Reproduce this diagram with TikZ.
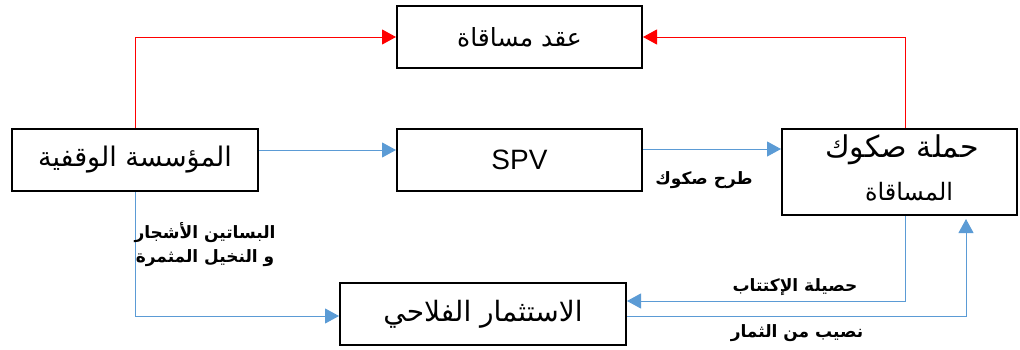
\documentclass[tikz,border=0pt]{standalone}
\usepackage{fontspec}
\setmainfont{Liberation Sans}
\newfontfamily\arabicfont[Script=Arabic]{DejaVu Sans}
\TeXXeTstate=1
\usetikzlibrary{arrows.meta,calc}
\definecolor{lineblue}{HTML}{5B9BD5}
\definecolor{linered}{HTML}{FF0000}
\tikzset{
  box/.style={draw=black,line width=2pt,rectangle,inner sep=0pt,align=center},
  lbl/.style={font=\arabicfont\bfseries\fontsize{17}{24}\selectfont,align=center,inner sep=0pt},
  bluearr/.style={draw=lineblue,line width=1pt,-{Triangle[length=14pt,width=15pt]}},
  redarr/.style={draw=linered,line width=1pt,-{Triangle[length=14pt,width=15pt]}}
}
\begin{document}
\begin{tikzpicture}[x=1pt,y=-1pt]
\useasboundingbox (0,0) rectangle (1020,349);
\node[box,minimum width=245pt,minimum height=62pt,font=\arabicfont\fontsize{25}{30}\selectfont] (top) at (519.5,37) {\beginR عقد مساقاة\endR};
\node[box,minimum width=246pt,minimum height=62pt,font=\arabicfont\fontsize{27}{30}\selectfont] (lb) at (135,160) {\beginR المؤسسة الوقفية\endR};
\node[box,minimum width=245pt,minimum height=62pt,font=\fontsize{28}{32}\selectfont] (spv) at (519.5,160) {SPV};
\node[box,minimum width=235pt,minimum height=86pt] (rb) at (899.5,172) {};
\node[font=\arabicfont\fontsize{30}{34}\selectfont,inner sep=0pt] (rb1) at (902,150) {\beginR حملة صكوك\endR};
\node[font=\arabicfont\fontsize{24}{30}\selectfont,inner sep=0pt] (rb2) at (909,192) {\beginR المساقاة\endR};
\node[box,minimum width=286pt,minimum height=62pt,font=\arabicfont\fontsize{28}{30}\selectfont] (bb) at (483,314) {\beginR الاستثمار الفلاحي\endR};

\draw[redarr] (lb.north) |- (top.west);
\draw[redarr] ([xshift=5.5pt]rb.north) |- (top.east);
\draw[bluearr] ([yshift=10pt]lb.east) -- ([yshift=10pt]spv.west);
\draw[bluearr] ([yshift=11pt]spv.east) -- ([yshift=11pt]spv.east -| rb.west);
\draw[bluearr] (lb.south) |- ([yshift=-2pt]bb.west);
\draw[bluearr] ([xshift=5.5pt]rb.south) |- ([yshift=13pt]bb.east);
\draw[bluearr,shorten >=3pt] ([yshift=-2pt]bb.east) -| ([xshift=66.5pt]rb.south);

\node[lbl] (l1) at (704,180) {\beginR طرح صكوك\endR};
\node[lbl] (l2) at (205,245) {\beginR البساتين الأشجار\endR\\\beginR و النخيل المثمرة\endR};
\node[lbl] (l3) at (795,287) {\beginR حصيلة الإكتتاب\endR};
\node[lbl] (l4) at (797,333) {\beginR نصيب من الثمار\endR};
\end{tikzpicture}
\end{document}
